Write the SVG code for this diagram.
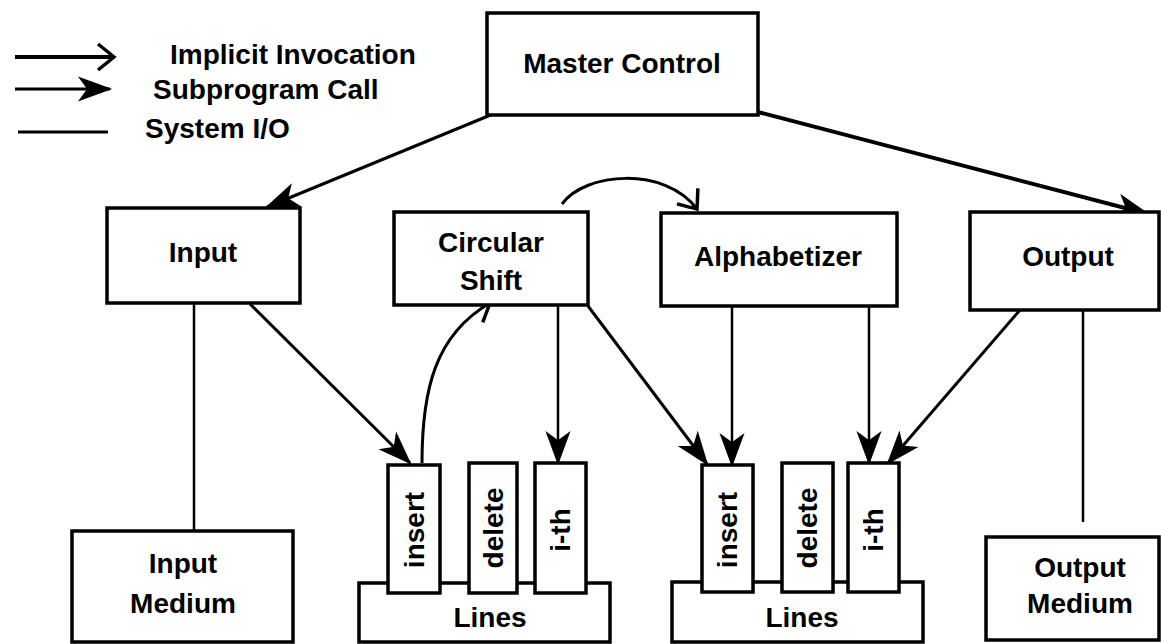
<svg xmlns="http://www.w3.org/2000/svg" width="1161" height="644" viewBox="0 0 1161 644">
<style>
  .box { fill: #fff; stroke: #000; stroke-width: 3.5; }
  .lbl { font-family: "Liberation Sans", Arial, sans-serif; font-weight: bold; font-size: 28px; fill: #000; }
  .mid { text-anchor: middle; }
  .con { fill: none; stroke: #000; stroke-width: 3; }
  .thin { stroke-width: 2.5; }
  .thick { stroke-width: 4; }
</style>
<defs>
  <marker id="sub" markerUnits="userSpaceOnUse" orient="auto" overflow="visible" markerWidth="1" markerHeight="1" refX="0" refY="0">
    <path d="M0,0 L-30,-11 L-22,0 L-30,11 Z" fill="#000" stroke="#000" stroke-width="1.5" stroke-linejoin="miter"/>
  </marker>
  <marker id="imp" markerUnits="userSpaceOnUse" orient="auto" overflow="visible" markerWidth="1" markerHeight="1" refX="0" refY="0">
    <path d="M-16,-13 Q-6,-5 0,0 Q-6,5 -16,13" fill="none" stroke="#000" stroke-width="3.5"/>
  </marker>
</defs>
<rect width="1161" height="644" fill="#fff"/>

<g id="legend">
  <line x1="15" y1="57" x2="114" y2="57" class="con thick" marker-end="url(#imp)"/>
  <text x="170" y="64" class="lbl">Implicit Invocation</text>
  <line x1="15" y1="89" x2="110" y2="89" class="con" marker-end="url(#sub)"/>
  <text x="153" y="99" class="lbl">Subprogram Call</text>
  <line x1="18" y1="132" x2="108" y2="132" class="con"/>
  <text x="145" y="138" class="lbl">System I/O</text>
</g>

<g id="connectors">
  <line x1="493" y1="114" x2="267" y2="207" class="con" marker-end="url(#sub)"/>
  <line x1="758" y1="112" x2="1148" y2="214" class="con thick" marker-end="url(#sub)"/>
  <path d="M562,204 C585,172 665,166 697,209" class="con" marker-end="url(#imp)"/>
  <path d="M422,463 C422,390 435,335 490,303" class="con" marker-end="url(#imp)"/>
  <line x1="558" y1="305" x2="558" y2="463" class="con thin" marker-end="url(#sub)"/>
  <line x1="250" y1="304" x2="410" y2="463" class="con" marker-end="url(#sub)"/>
  <line x1="588" y1="306" x2="707" y2="464" class="con" marker-end="url(#sub)"/>
  <line x1="732" y1="306" x2="732" y2="465" class="con thin" marker-end="url(#sub)"/>
  <line x1="869" y1="306" x2="869" y2="463" class="con thin" marker-end="url(#sub)"/>
  <line x1="1020" y1="310" x2="888" y2="463" class="con" marker-end="url(#sub)"/>
  <line x1="194" y1="303" x2="194" y2="531" class="con thin"/>
  <line x1="1083" y1="310" x2="1083" y2="522" class="con thin"/>
</g>

<g id="master-control">
  <rect x="487" y="13" width="271" height="102" class="box"/>
  <text x="622" y="73" class="lbl mid">Master Control</text>
</g>
<g id="input">
  <rect x="107" y="208" width="193" height="95" class="box"/>
  <text x="203" y="262" class="lbl mid">Input</text>
</g>
<g id="circular-shift">
  <rect x="394" y="212" width="194" height="93" class="box"/>
  <text x="491" y="252" class="lbl mid">Circular</text>
  <text x="491" y="290" class="lbl mid">Shift</text>
</g>
<g id="alphabetizer">
  <rect x="661" y="213" width="236" height="93" class="box"/>
  <text x="778" y="266" class="lbl mid">Alphabetizer</text>
</g>
<g id="output">
  <rect x="970" y="212" width="189" height="98" class="box"/>
  <text x="1068" y="266" class="lbl mid">Output</text>
</g>
<g id="input-medium">
  <rect x="72" y="531" width="221" height="111" class="box"/>
  <text x="183" y="573" class="lbl mid">Input</text>
  <text x="183" y="613" class="lbl mid">Medium</text>
</g>
<g id="output-medium">
  <rect x="986" y="537" width="173" height="103" class="box"/>
  <text x="1080" y="577" class="lbl mid">Output</text>
  <text x="1080" y="613" class="lbl mid">Medium</text>
</g>

<g id="lines-1">
  <rect x="359" y="583" width="251" height="59" class="box"/>
  <text x="490" y="627" class="lbl mid">Lines</text>
</g>
<g id="insert-1">
  <rect x="388" y="465" width="52" height="128" class="box"/>
  <text transform="translate(424,530) rotate(-90)" class="lbl mid">insert</text>
</g>
<g id="delete-1">
  <rect x="469" y="463" width="48" height="130" class="box"/>
  <text transform="translate(503,528) rotate(-90)" class="lbl mid">delete</text>
</g>
<g id="ith-1">
  <rect x="535" y="463" width="51" height="130" class="box"/>
  <text transform="translate(570,530) rotate(-90)" class="lbl mid">i-th</text>
</g>

<g id="lines-2">
  <rect x="672" y="582" width="251" height="60" class="box"/>
  <text x="802" y="627" class="lbl mid">Lines</text>
</g>
<g id="insert-2">
  <rect x="702" y="465" width="51" height="127" class="box"/>
  <text transform="translate(737,530) rotate(-90)" class="lbl mid">insert</text>
</g>
<g id="delete-2">
  <rect x="782" y="463" width="51" height="129" class="box"/>
  <text transform="translate(817,528) rotate(-90)" class="lbl mid">delete</text>
</g>
<g id="ith-2">
  <rect x="848" y="463" width="51" height="129" class="box"/>
  <text transform="translate(883,530) rotate(-90)" class="lbl mid">i-th</text>
</g>
</svg>
